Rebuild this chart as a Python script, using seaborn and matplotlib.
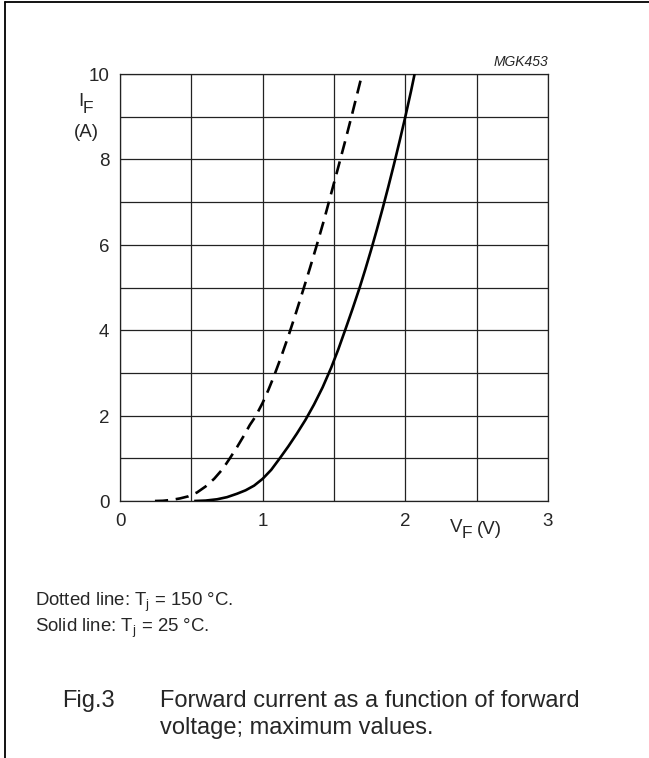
import matplotlib
matplotlib.use("Agg")
import matplotlib.pyplot as plt
from matplotlib.lines import Line2D
import seaborn as sns
import pandas as pd

# Tj = 150 °C (dashed)
vf_150 = [0.245, 0.30, 0.36, 0.42, 0.48, 0.54, 0.60, 0.66, 0.72, 0.77, 0.82, 0.87, 0.91,
          0.95, 1.00, 1.04, 1.08, 1.13, 1.18, 1.23, 1.28, 1.33, 1.38, 1.43, 1.48, 1.53,
          1.58, 1.63, 1.69, 1.70]
if_150 = [0.0, 0.005, 0.025, 0.06, 0.11, 0.20, 0.34, 0.52, 0.75, 1.0, 1.26, 1.54, 1.78,
          1.98, 2.30, 2.60, 2.93, 3.38, 3.86, 4.37, 4.90, 5.44, 6.00, 6.58, 7.20, 7.82,
          8.45, 9.10, 9.90, 10.0]
# Tj = 25 °C (solid)
vf_25 = [0.52, 0.60, 0.68, 0.75, 0.82, 0.88, 0.94, 1.00, 1.06, 1.12, 1.18, 1.24, 1.30,
         1.36, 1.42, 1.48, 1.53, 1.58, 1.63, 1.68, 1.72, 1.76, 1.80, 1.84, 1.88, 1.92,
         1.96, 2.00, 2.04, 2.065]
if_25 = [0.0, 0.01, 0.04, 0.09, 0.17, 0.25, 0.36, 0.52, 0.73, 1.0, 1.28, 1.58, 1.90,
         2.26, 2.66, 3.12, 3.55, 4.02, 4.50, 5.0, 5.43, 5.88, 6.35, 6.84, 7.35, 7.88,
         8.43, 9.0, 9.6, 10.0]

x_ticks = [0, 1, 2, 3]
y_ticks = [0, 2, 4, 6, 8, 10]

sns.set_theme(style="white")
plt.rcParams['font.family'] = ['Liberation Sans', 'DejaVu Sans']
plt.rcParams['mathtext.fontset'] = 'custom'
plt.rcParams['mathtext.rm'] = 'Liberation Sans'
plt.rcParams['mathtext.it'] = 'Liberation Sans:italic'
plt.rcParams['mathtext.default'] = 'regular'

W, H = 649, 758
fig = plt.figure(figsize=(W / 100, H / 100), dpi=100)
fig.patch.set_facecolor('white')

x0, x1, y0, y1 = 120, 548, 74, 501
ax = fig.add_axes([x0 / W, 1 - y1 / H, (x1 - x0) / W, (y1 - y0) / H])

df150 = pd.DataFrame({'VF': vf_150, 'IF': if_150})
df25 = pd.DataFrame({'VF': vf_25, 'IF': if_25})
sns.lineplot(data=df150, x='VF', y='IF', ax=ax, color='black', lw=1.9, sort=False, zorder=3)
sns.lineplot(data=df25, x='VF', y='IF', ax=ax, color='black', lw=1.9, sort=False, zorder=3)
ax.lines[0].set_dashes((5.0, 2.9))
for ln in ax.lines:
    ln.set_solid_capstyle('butt')
    ln.set_dash_capstyle('butt')
    ln.set_solid_joinstyle('round')

ax.set_xlim(0, 3)
ax.set_ylim(0, 10)
ax.set_xticks([0, 0.5, 1, 1.5, 2, 2.5, 3])
ax.set_yticks(range(0, 11))
ax.grid(True, color='#222222', lw=0.9)
ax.tick_params(length=0, labelbottom=False, labelleft=False)
for s in ax.spines.values():
    s.set_color('#222222')
    s.set_linewidth(0.9)
ax.set_xlabel('')
ax.set_ylabel('')

fs = 13.5
for v in x_ticks:
    ax.text(v, -0.47, str(v), ha='center', va='center', fontsize=fs)
for v in y_ticks:
    ax.text(-0.075, v - 0.06, str(v), ha='right', va='center', fontsize=fs)

def fx(px):
    return px / W

def fy(py):
    return 1 - py / H

fig.text(fx(548), fy(62), 'MGK453', ha='right', va='center', fontsize=10, style='italic')
# I_F label
fig.text(fx(78), fy(101), 'I', ha='left', va='center', fontsize=fs)
fig.text(fx(83), fy(108.5), 'F', ha='left', va='center', fontsize=12.5)
fig.text(fx(86), fy(132.5), '(A)', ha='center', va='center', fontsize=fs)
# V_F label
fig.text(fx(450), fy(527.5), 'V', ha='left', va='center', fontsize=fs)
fig.text(fx(462), fy(533), 'F', ha='left', va='center', fontsize=12.5)
fig.text(fx(477), fy(529), '(V)', ha='left', va='center', fontsize=fs)

fig.text(fx(35), fy(605.5), 'Dotted line: T$_j$ = 150 °C.', ha='left', va='baseline', fontsize=13.4)
fig.text(fx(35), fy(631.5), 'Solid line: T$_j$ = 25 °C.', ha='left', va='baseline', fontsize=13.4)
fig.text(fx(62), fy(707), 'Fig.3', ha='left', va='baseline', fontsize=17)
fig.text(fx(160), fy(707), 'Forward current as a function of forward', ha='left', va='baseline', fontsize=17)
fig.text(fx(160), fy(734), 'voltage; maximum values.', ha='left', va='baseline', fontsize=17)

# frame lines (top and left)
fig.add_artist(Line2D([fx(5), 1], [fy(2), fy(2)], color='black', lw=1.3))
fig.add_artist(Line2D([fx(5), fx(5)], [fy(2), 0], color='black', lw=1.3))

fig.savefig('out.png', dpi=100, facecolor='white')
